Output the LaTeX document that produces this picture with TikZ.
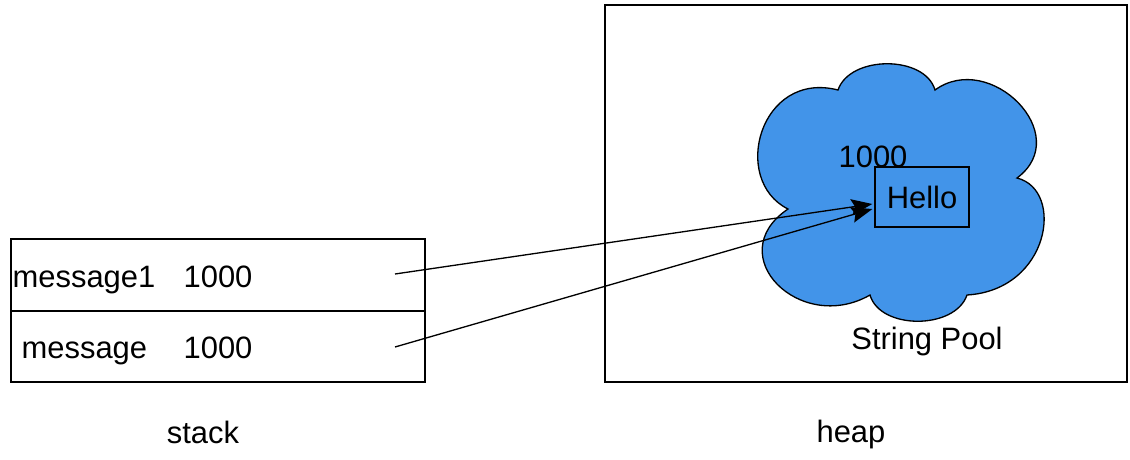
\documentclass[tikz,border=0pt]{standalone}
\usepackage{fontspec}
\setmainfont{Liberation Sans}
\usetikzlibrary{calc,arrows.meta}
\definecolor{poolblue}{RGB}{66,148,233}
\begin{document}
\begin{tikzpicture}[x=0.02cm,y=-0.02cm,line width=0.75pt,font=\fontsize{17.6}{20}\selectfont,
  txt/.style={inner sep=0pt,anchor=base west},
  ptr/.style={-{Stealth[length=12pt,width=9pt,inset=2pt]}}]
\useasboundingbox (0,0) rectangle (1130,460);

% stack with two slots
\node (stack) at (218,310.5)[draw,minimum width=414*0.02cm,minimum height=143*0.02cm,inner sep=0pt]{};
\draw (stack.west |- 0,311) -- (stack.east |- 0,311);
\node (s1) at (12,287)[txt]{message1};
\node (s0) at (21,358)[txt]{message};
\foreach \y/\n in {287/v1,358/v0}
{
\node (\n) at (183,\y)[txt]{1000};
}
\node (stacklbl) at (203,432){stack};

% heap
\node (heap) at (866,193.5)[draw,minimum width=522*0.02cm,minimum height=377*0.02cm,inner sep=0pt]{};
\node (heaplbl) at (851,434){heap};

% string pool cloud
\filldraw[fill=poolblue] (838,90) .. controls (850,55) and (925,55) .. (935,90)
  .. controls (990,50) and (1075,135) .. (1017,178)
  .. controls (1065,190) and (1050,290) .. (967,295)
  .. controls (955,330) and (880,330) .. (870,295)
  .. controls (800,335) and (720,255) .. (788,209)
  .. controls (730,180) and (760,70) .. (838,90) -- cycle;
\node (pool) at (927,342){String Pool};
\node (addr) at (838,167)[txt]{1000};
\node (hello) at (922,197)[draw,minimum width=94*0.02cm,minimum height=60*0.02cm,inner sep=0pt]{Hello};

% references
\coordinate (r1) at (395,274);
\coordinate (r0) at (395,347);
\draw[ptr] (r1) -- ($(hello.west)+(-2,7)$);
\draw[ptr] (r0) -- ($(hello.west)+(-2,12)$);

\end{tikzpicture}
\end{document}
